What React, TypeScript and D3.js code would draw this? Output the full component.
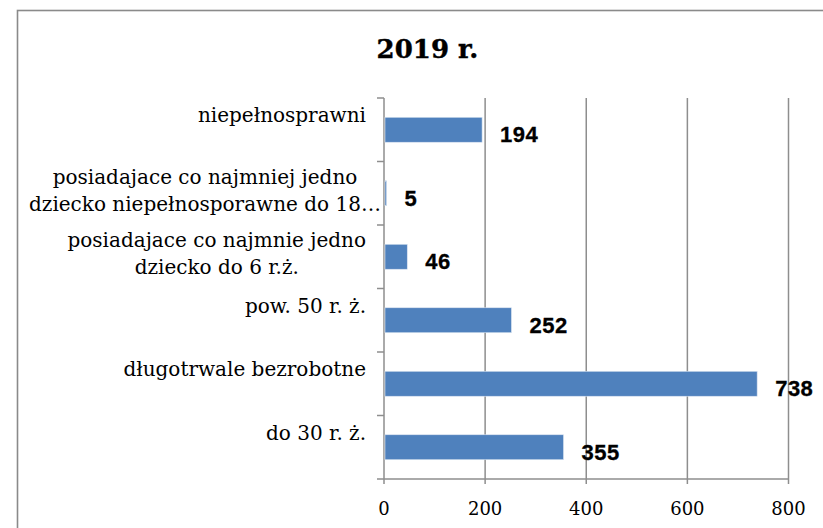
import React, { useMemo } from "react";
import * as d3 from "d3";

const title = "2019 r.";
const categories: string[][] = [
  ["niepełnosprawni"],
  ["posiadajace co najmniej jedno", "dziecko niepełnosporawne do 18…"],
  ["posiadajace co najmnie jedno", "dziecko do 6 r.ż."],
  ["pow. 50 r. ż."],
  ["długotrwale bezrobotne"],
  ["do 30 r. ż."],
];
const values = [194, 5, 46, 252, 738, 355];
const xTicks = [0, 200, 400, 600, 800];

const W = 823;
const H = 528;
const plot = { left: 384, right: 788.5, top: 98, bottom: 479 };
const catFont = '20px "DejaVu Serif"';
const barColor = "#4F81BD";
const gridColor = "#8e8e8e";

function measure(text: string, font: string): number {
  if (typeof document === "undefined") return text.length * 10;
  const c = document.createElement("canvas");
  const ctx = c.getContext("2d");
  if (!ctx) return text.length * 10;
  ctx.font = font;
  return ctx.measureText(text).width;
}

export default function App() {
  const x = d3.scaleLinear().domain([0, 800]).range([plot.left, plot.right]);
  const y = d3
    .scaleBand<number>()
    .domain(d3.range(categories.length))
    .range([plot.top, plot.bottom])
    .paddingInner(0.607)
    .paddingOuter(0.3035);
  const band = (plot.bottom - plot.top) / categories.length;
  const centers = categories.map((_, i) => plot.top + band * (i + 0.5));
  const boundaries = d3.range(categories.length + 1).map((i) => plot.top + band * i);

  const labelRight = 366;
  const labelCenters = useMemo(
    () =>
      categories.map((lines) => {
        const mw = Math.min(d3.max(lines, (l) => measure(l, catFont)) || 0, 322);
        return labelRight - mw / 2;
      }),
    []
  );

  return (
    <svg
      width={W}
      height={H}
      style={{ position: "absolute", left: 0, top: 0, background: "#fff" }}
    >
      <rect x={17.5} y={10.5} width={900} height={600} fill="#fff" stroke="#8a8a8a" strokeWidth={1.6} />
      <text
        x={427.5}
        y={58}
        textAnchor="middle"
        fontFamily='"DejaVu Serif", serif'
        fontWeight="bold"
        fontSize={26}
        fill="#000"
        stroke="#000"
        strokeWidth={0.4}
      >
        {title}
      </text>

      {/* gridlines */}
      {xTicks.slice(1).map((t) => (
        <line key={"g" + t} x1={x(t)} x2={x(t)} y1={plot.top} y2={plot.bottom + 5} stroke={gridColor} strokeWidth={1.5} />
      ))}
      {/* bottom axis */}
      <line x1={plot.left} x2={plot.right} y1={plot.bottom} y2={plot.bottom} stroke={gridColor} strokeWidth={1.5} />
      {/* left axis */}
      <line x1={plot.left} x2={plot.left} y1={plot.top} y2={plot.bottom + 5} stroke={gridColor} strokeWidth={1.5} />
      {boundaries.map((b, i) => (
        <line key={"t" + i} x1={plot.left - 7} x2={plot.left} y1={b} y2={b} stroke={gridColor} strokeWidth={1.5} />
      ))}

      {/* bars */}
      {values.map((v, i) => (
        <rect
          key={"b" + i}
          x={x(0) + 1}
          y={y(i)}
          width={Math.max(x(v) - x(0) - 1, 1.5)}
          height={y.bandwidth()}
          fill={barColor}
          stroke="#dbe5f1"
          strokeWidth={0.6}
        />
      ))}

      {/* value labels */}
      {values.map((v, i) => (
        <text
          key={"v" + i}
          x={x(v) + 18}
          y={centers[i] + 12.5}
          fontFamily='"Liberation Sans", Arial, sans-serif'
          fontWeight="bold"
          fontSize={22}
          letterSpacing={0.5}
          fill="#000"
          stroke="#000"
          strokeWidth={0.3}
        >
          {v}
        </text>
      ))}

      {/* category labels */}
      {categories.map((lines, i) => {
        if (lines.length === 1) {
          return (
            <text
              key={"c" + i}
              x={labelRight}
              y={centers[i] - 7.5}
              textAnchor="end"
              fontFamily='"DejaVu Serif", serif'
              fontSize={20}
              fill="#000"
            >
              {lines[0]}
            </text>
          );
        }
        return (
          <text
            key={"c" + i}
            x={labelCenters[i]}
            y={centers[i] - 9.5}
            textAnchor="middle"
            fontFamily='"DejaVu Serif", serif'
            fontSize={20}
            fill="#000"
          >
            {lines.map((l, j) => (
              <tspan key={j} x={labelCenters[i]} dy={j === 0 ? 0 : 27}>
                {l}
              </tspan>
            ))}
          </text>
        );
      })}

      {/* x tick labels */}
      {xTicks.map((t) => (
        <text
          key={"x" + t}
          x={x(t)}
          y={515}
          textAnchor="middle"
          fontFamily='"DejaVu Serif", serif'
          fontSize={18}
          fill="#000"
        >
          {t}
        </text>
      ))}
    </svg>
  );
}
